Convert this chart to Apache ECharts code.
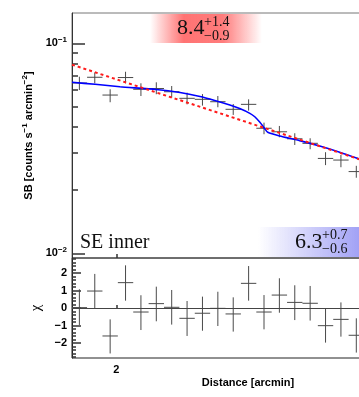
<!DOCTYPE html>
<html>
<head>
<meta charset="utf-8">
<script src="https://cdn.jsdelivr.net/npm/echarts@6/dist/echarts.min.js"></script>
<style>
  html, body { margin: 0; padding: 0; background: #fff; }
  #chart { width: 359px; height: 397px; }
</style>
</head>
<body>
<div id="chart"></div>
<script>
// bin centres [arcmin]
const dist = [1.88, 1.93, 1.98, 2.03, 2.08, 2.13, 2.18, 2.23, 2.28, 2.33,
  2.38, 2.43, 2.48, 2.53, 2.58, 2.63, 2.68, 2.73, 2.78];
const halfBin = 0.025;

// surface brightness and its error bar ends
const sbVal = [0.0647, 0.0689, 0.0567, 0.0687, 0.0604, 0.0609, 0.0588, 0.0547, 0.0541, 0.0527,
  0.0485, 0.0512, 0.0394, 0.0379, 0.0351, 0.0334, 0.0283, 0.0278, 0.0245];
const sbLo = [0.0599, 0.0645, 0.0524, 0.0645, 0.0561, 0.0572, 0.0551, 0.0512, 0.0505, 0.0496,
  0.0456, 0.0478, 0.0369, 0.0357, 0.0328, 0.0313, 0.0263, 0.0257, 0.0229];
const sbHi = [0.0693, 0.0726, 0.0604, 0.0732, 0.0645, 0.0652, 0.0626, 0.0582, 0.0573, 0.0561,
  0.0514, 0.0541, 0.0419, 0.0404, 0.0373, 0.0353, 0.0303, 0.0294, 0.0261];

// broken power-law model (blue)
const jumpX = [1.856, 1.931, 2.012, 2.129, 2.207, 2.272, 2.320, 2.369, 2.401, 2.434,
  2.450, 2.466, 2.476, 2.483, 2.492, 2.531, 2.596, 2.661, 2.726, 2.791];
const jumpY = [0.0652, 0.0638, 0.0621, 0.0603, 0.0583, 0.0558, 0.0534, 0.0508, 0.0489, 0.0464,
  0.0447, 0.0422, 0.0404, 0.0391, 0.0377, 0.0362, 0.0344, 0.0324, 0.0303, 0.0281];

// single power-law model (red dashed)
const plX = [1.856, 2.109, 2.369, 2.596, 2.791];
const plY = [0.0791, 0.0597, 0.0448, 0.0348, 0.0280];

// residuals
const chiVal = [0.02, 0.97, -1.6, 1.45, -0.23, 0.25, 0.04, -0.59, -0.3, -0.02,
  -0.34, 1.41, -0.23, 0.74, 0.32, 0.27, -1.01, -0.65, -1.56];
const chiLo = [-0.97, 0.0, -2.6, 0.42, -1.26, -0.76, -0.95, -1.6, -1.3, -1.03,
  -1.35, 0.42, -1.22, -0.27, -0.69, -0.72, -1.98, -1.64, -2.55];
const chiHi = [1.07, 1.95, -0.65, 2.44, 0.73, 1.22, 1.03, 0.4, 0.65, 0.93,
  0.61, 2.4, 0.74, 1.7, 1.3, 1.26, -0.02, 0.32, -0.59];

// ticks
const xTicks = [2];
const sbMajor = [0.01, 0.1];
const sbMinor = [0.02, 0.03, 0.04, 0.05, 0.06, 0.07, 0.08, 0.09];
const chiMajor = [-2, -1, 0, 1, 2];
const chiMinor = [-2.8, -2.6, -2.4, -2.2, -1.8, -1.6, -1.4, -1.2, -0.8, -0.6, -0.4, -0.2,
  0.2, 0.4, 0.6, 0.8, 1.2, 1.4, 1.6, 1.8, 2.2, 2.4, 2.6, 2.8];

const sans = "'Liberation Sans', Arial, sans-serif";
const serif = "'Liberation Serif', 'DejaVu Serif', serif";

function crossItem(params, api) {
  const x = api.value(0), y = api.value(1), lo = api.value(2), hi = api.value(3);
  const l = api.coord([x - halfBin, y]);
  const r = api.coord([x + halfBin, y]);
  const t = api.coord([x, hi]);
  const b = api.coord([x, lo]);
  const style = { stroke: '#4a4a4a', lineWidth: 1 };
  return {
    type: 'group',
    children: [
      { type: 'line', shape: { x1: l[0], y1: l[1], x2: r[0], y2: r[1] }, style: style },
      { type: 'line', shape: { x1: t[0], y1: t[1], x2: b[0], y2: b[1] }, style: style }
    ]
  };
}

const chart = echarts.init(document.getElementById('chart'));

const tickStyle = { color: '#333', width: 1.5 };

const option = {
  animation: false,
  grid: [
    { left: 72, top: 13, width: 352, height: 245, show: true, borderColor: '#777', borderWidth: 1, outerBoundsMode: 'none' },
    { left: 72, top: 258, width: 352, height: 100, show: true, borderColor: '#222', borderWidth: 1, outerBoundsMode: 'none' }
  ],
  xAxis: [
    {
      gridIndex: 0, type: 'value', min: 1.856, max: 3, splitLine: { show: false }, axisLine: { show: false },
      axisTick: { show: true, inside: true, length: 4, customValues: xTicks, lineStyle: tickStyle },
      axisLabel: { show: false }
    },
    {
      gridIndex: 1, type: 'value', min: 1.856, max: 3, splitLine: { show: false }, axisLine: { show: false },
      axisTick: { show: true, inside: true, length: 3, customValues: xTicks, lineStyle: tickStyle },
      axisLabel: { customValues: xTicks, margin: 6, color: '#000', fontFamily: sans, fontWeight: 'bold', fontSize: 11 },
      name: 'Distance [arcmin]', nameLocation: 'middle', nameGap: 19,
      nameTextStyle: { color: '#000', fontFamily: sans, fontWeight: 'bold', fontSize: 11 }
    }
  ],
  yAxis: [
    {
      gridIndex: 0, type: 'log', min: 0.0095, max: 0.1394, position: 'left', splitLine: { show: false },
      axisLine: { show: true, lineStyle: { color: '#333' } },
      axisTick: { show: true, inside: true, length: 13, customValues: sbMajor, lineStyle: tickStyle },
      axisLabel: {
        customValues: sbMajor, margin: 5, color: '#000',
        fontFamily: sans, fontWeight: 'bold', fontSize: 11,
        formatter: function (v) {
          return '10{e|\u2212' + Math.round(-Math.log10(v)) + '}';
        },
        rich: { e: { fontFamily: sans, fontWeight: 'bold', fontSize: 8, padding: [0, 0, 7, 0] } }
      },
      name: 'SB [counts s{e|\u22121} arcmin{e|\u22122}]',
      nameLocation: 'middle', nameGap: 36,
      nameTextStyle: {
        color: '#000', fontFamily: sans, fontWeight: 'bold', fontSize: 11,
        rich: { e: { fontFamily: sans, fontWeight: 'bold', fontSize: 8, padding: [0, 0, 7, 0] } }
      }
    },
    {
      gridIndex: 0, type: 'log', min: 0.0095, max: 0.1394, position: 'left', offset: 0, splitLine: { show: false },
      axisLine: { show: false },
      axisTick: { show: true, inside: true, length: 6, customValues: sbMinor, lineStyle: tickStyle },
      axisLabel: { show: false }
    },
    {
      gridIndex: 1, type: 'value', min: -2.86, max: 2.86, position: 'left', splitLine: { show: false },
      axisLine: { show: true, lineStyle: { color: '#222' } },
      axisTick: { show: true, inside: true, length: 9, customValues: chiMajor, lineStyle: tickStyle },
      axisLabel: {
        customValues: chiMajor, margin: 5, color: '#000',
        fontFamily: sans, fontWeight: 'bold', fontSize: 11,
        formatter: function (v) { return v < 0 ? '\u2212' + (-v) : String(v); }
      },
      name: '\u03c7', nameLocation: 'middle', nameGap: 28,
      nameTextStyle: { color: '#000', fontFamily: serif, fontSize: 15 }
    },
    {
      gridIndex: 1, type: 'value', min: -2.86, max: 2.86, position: 'left', offset: 0, splitLine: { show: false },
      axisLine: { show: false },
      axisTick: { show: true, inside: true, length: 4, customValues: chiMinor, lineStyle: tickStyle },
      axisLabel: { show: false }
    }
  ],
  series: [
    {
      type: 'custom', xAxisIndex: 0, yAxisIndex: 0, clip: true,
      renderItem: crossItem,
      encode: { x: 0, y: 1 },
      data: dist.map((d, i) => [d, sbVal[i], sbLo[i], sbHi[i]]),
      z: 3
    },
    {
      type: 'line', xAxisIndex: 0, yAxisIndex: 0, showSymbol: false, smooth: 0.2,
      lineStyle: { color: '#0000ff', width: 1.6 },
      data: jumpX.map((d, i) => [d, jumpY[i]]),
      z: 4
    },
    {
      type: 'line', xAxisIndex: 0, yAxisIndex: 0, showSymbol: false,
      lineStyle: { color: '#ff1a1a', width: 2, type: [3, 3] },
      data: plX.map((d, i) => [d, plY[i]]),
      z: 5
    },
    {
      type: 'custom', xAxisIndex: 1, yAxisIndex: 2, clip: true,
      renderItem: crossItem,
      encode: { x: 0, y: 1 },
      data: dist.map((d, i) => [d, chiVal[i], chiLo[i], chiHi[i]]),
      markLine: {
        silent: true, symbol: 'none', label: { show: false },
        lineStyle: { color: '#444', width: 1, type: 'solid' },
        data: [{ yAxis: 0 }]
      },
      z: 3
    }
  ],
  graphic: [
    {
      type: 'rect', z: 1, shape: { x: 150, y: 14, width: 112, height: 29 },
      style: { fill: { type: 'linear', x: 0, y: 0, x2: 1, y2: 0, colorStops: [
        { offset: 0, color: 'rgba(255,80,80,0)' },
        { offset: 0.3, color: 'rgba(255,80,80,0.8)' },
        { offset: 0.65, color: 'rgba(255,80,80,0.75)' },
        { offset: 1, color: 'rgba(255,80,80,0)' }] } }
    },
    {
      type: 'rect', z: 1, shape: { x: 258, y: 227, width: 110, height: 30 },
      style: { fill: { type: 'linear', x: 0, y: 0, x2: 1, y2: 0, colorStops: [
        { offset: 0, color: 'rgba(110,110,240,0)' },
        { offset: 1, color: 'rgba(110,110,240,0.7)' }] } }
    },
    { type: 'text', z: 10, x: 177, y: 28, style: { text: '8.4', font: '22px ' + serif, fill: '#111', verticalAlign: 'middle' } },
    { type: 'text', z: 10, x: 204, y: 22, style: { text: '+1.4', font: '14px ' + serif, fill: '#111', verticalAlign: 'middle' } },
    { type: 'text', z: 10, x: 204, y: 36, style: { text: '\u22120.9', font: '14px ' + serif, fill: '#111', verticalAlign: 'middle' } },
    { type: 'text', z: 10, x: 295, y: 242, style: { text: '6.3', font: '22px ' + serif, fill: '#111', verticalAlign: 'middle' } },
    { type: 'text', z: 10, x: 322, y: 235, style: { text: '+0.7', font: '14px ' + serif, fill: '#111', verticalAlign: 'middle' } },
    { type: 'text', z: 10, x: 322, y: 249, style: { text: '\u22120.6', font: '14px ' + serif, fill: '#111', verticalAlign: 'middle' } },
    { type: 'text', z: 10, x: 80, y: 243, style: { text: 'SE inner', font: '20px ' + serif, fill: '#111', verticalAlign: 'middle' } }
  ]
};

chart.setOption(option);
</script>
</body>
</html>
